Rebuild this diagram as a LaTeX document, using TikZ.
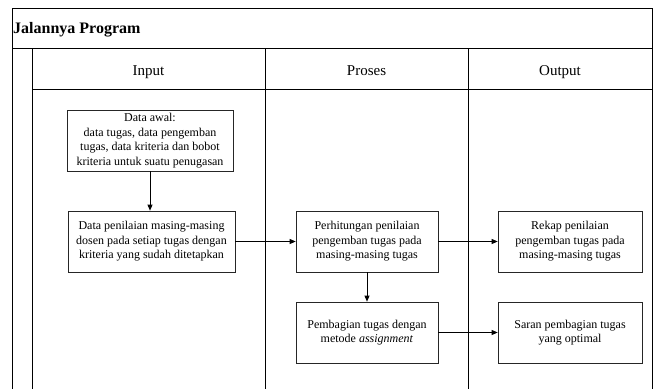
\documentclass[tikz,border=0pt]{standalone}
\usepackage{fontspec}
\setmainfont{Liberation Serif}
\usetikzlibrary{arrows.meta}
\tikzset{
  lane/.style={line width=1pt, draw=black},
  procbox/.style={draw=black!85, line width=0.7pt, align=center, minimum height=61pt, inner sep=2pt,
    font=\fontsize{12}{14.5}\selectfont},
  hdr/.style={font=\fontsize{15}{18}\selectfont, anchor=base, inner sep=0pt},
  flow/.style={-{Triangle[length=6pt,width=5pt]}, line width=0.7pt, draw=black}
}
\begin{document}
\begin{tikzpicture}[x=1pt,y=-1pt]
\useasboundingbox (0,0) rectangle (655,388);
\clip (0,0) rectangle (655,388);
% frame
\draw[lane] (12,400) -- (12,8) -- (652,8) -- (652,400);
\draw[lane] (12,48) -- (652,48);
\draw[lane] (32,48) -- (32,400);
\draw[lane] (32,89) -- (652,89);
\draw[lane] (265,48) -- (265,400);
\draw[lane] (468,48) -- (468,400);
% title and headers
\node[anchor=base west, font=\bfseries\fontsize{16}{19}\selectfont, inner sep=0pt] (title) at (13,33) {Jalannya Program};
\node[hdr] (hin) at (148.5,75.5) {Input};
\node[hdr] (hpr) at (366.5,75.5) {Proses};
\node[hdr] (hout) at (560,75.5) {Output};
% boxes
\node[procbox, minimum width=166pt] (b1) at (150,140.5) {Data awal:\\data tugas, data pengemban\\tugas, data kriteria dan bobot\\kriteria untuk suatu penugasan};
\node[procbox, minimum width=167pt] (b2) at (151.5,241.5) {Data penilaian masing-masing\\dosen pada setiap tugas dengan\\kriteria yang sudah ditetapkan};
\node[procbox, minimum width=142pt] (b3) at (367,241.5) {Perhitungan penilaian\\pengemban tugas pada\\masing-masing tugas};
\node[procbox, minimum width=142pt] (b4) at (367,332.5) {Pembagian tugas dengan\\metode \textit{assignment}};
\node[procbox, minimum width=144pt] (b5) at (570,241.5) {Rekap penilaian\\pengemban tugas pada\\masing-masing tugas};
\node[procbox, minimum width=144pt] (b6) at (570,332.5) {Saran pembagian tugas\\yang optimal};
% connectors
\draw[flow] (b1.south) -- (b2.north -| b1.south);
\draw[flow] (b2) -- (b3);
\draw[flow] (b3) -- (b5);
\draw[flow] (b3) -- (b4);
\draw[flow] (b4) -- (b6);
\end{tikzpicture}
\end{document}
